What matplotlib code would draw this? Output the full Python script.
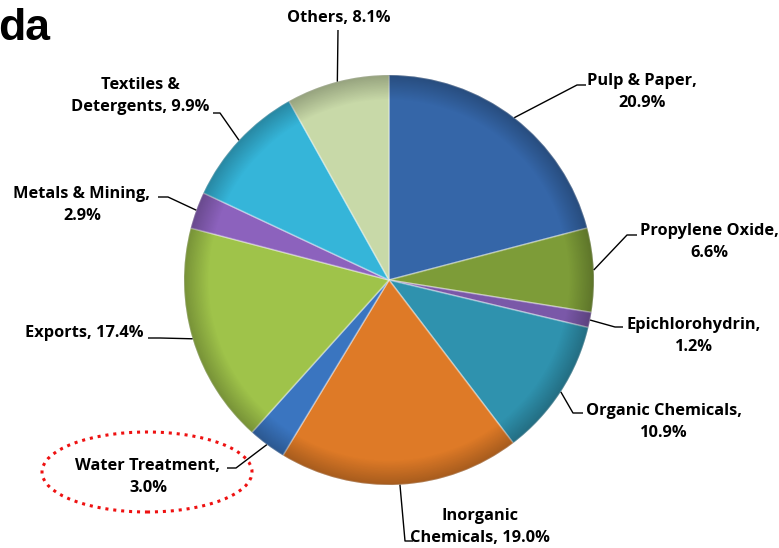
import numpy as np
import matplotlib
matplotlib.use("Agg")
import matplotlib.pyplot as plt
from matplotlib.patches import Ellipse, Circle

# data
labels = ["Pulp & Paper", "Propylene Oxide", "Epichlorohydrin", "Organic Chemicals",
          "Inorganic Chemicals", "Water Treatment", "Exports", "Metals & Mining",
          "Textiles & Detergents", "Others"]
shares = [20.9, 6.6, 1.2, 10.9, 19.0, 3.0, 17.4, 2.9, 9.9, 8.1]
label_text = ["Pulp & Paper,\n20.9%", "Propylene Oxide,\n6.6%", "Epichlorohydrin,\n1.2%",
              "Organic Chemicals,\n10.9%", "Inorganic\nChemicals, 19.0%",
              "Water Treatment,\n3.0%", "Exports, 17.4%", "Metals & Mining,\n2.9%",
              "Textiles &\nDetergents, 9.9%", "Others, 8.1%"]
colors = ["#3566a8", "#7d9c38", "#7a58a8", "#2f92ae", "#de7a27",
          "#3a75c0", "#9fc34a", "#8c62bd", "#35b5d9", "#c8d9a8"]

# layout (pixel coords, y from top): text centre, elbow point, end of short tail
text_pos = [(642, 92), (709, 242), (694, 336), (664, 422), (480, 527),
            (148, 477), (84, 333), (82, 205), (140, 96), (339, 18)]
elbows = [(577, 85), (627, 235), (615, 327), (573, 413), (405, 541),
          (236, 468), (160, 338), (168, 197), (220, 113), (338, 30)]
tails = [(586, 85), (637, 235), (623, 327), (583, 413), (413, 541),
         (227, 468), (148, 338), (158, 197), (213, 113), (338, 30)]

W, H = 779, 548
cx, cy, R = 389, 280, 205

def Y(y):
    return H - y

fig = plt.figure(figsize=(W / 100, H / 100), dpi=100)
ax = fig.add_axes([0, 0, 1, 1])

wedges, _ = ax.pie(shares, colors=colors, startangle=90, counterclock=False,
                   center=(cx, Y(cy)), radius=R, frame=True,
                   wedgeprops=dict(edgecolor=(1, 1, 1, 0.35), linewidth=1.2))
ax.set_xlim(0, W)
ax.set_ylim(0, H)
ax.set_aspect("equal")
ax.axis("off")

# bevel-like shading over the pie
n = 400
gx, gy = np.meshgrid(np.linspace(-1, 1, n), np.linspace(-1, 1, n))
rr = np.sqrt(gx ** 2 + gy ** 2)
shade = np.zeros((n, n, 4))
shade[..., 3] = np.clip((rr - 0.88) / 0.12, 0, 1) * 0.25
img = ax.imshow(shade, extent=(cx - R, cx + R, Y(cy) - R, Y(cy) + R), zorder=3)
img.set_clip_path(Circle((cx, Y(cy)), R, transform=ax.transData))

# leader lines and labels
for w, t, (ex, ey), (tx, ty), (px, py) in zip(wedges, label_text, elbows, tails, text_pos):
    mid = np.deg2rad((w.theta1 + w.theta2) / 2)
    sx = cx + R * np.cos(mid)
    sy = Y(cy) + R * np.sin(mid)
    ax.plot([sx, ex, tx], [sy, Y(ey), Y(ty)], color="black", lw=1, zorder=4,
            solid_capstyle="butt")
    ax.text(px, Y(py), t, ha="center", va="center", multialignment="center",
            fontsize=11.8, fontweight="bold", family="Open Sans", linespacing=1.45,
            color="black", zorder=5)

# dotted highlight around Water Treatment
ax.add_patch(Ellipse((147, Y(472)), 210, 80, fill=False, edgecolor="#ee1111",
                     linestyle=(0, (1, 1.6)), linewidth=2.2, zorder=6))

# cut-off title fragment
ax.text(-2, Y(40), "da", ha="left", va="baseline", fontsize=32,
        fontweight="bold", family="Liberation Sans", color="black")

fig.savefig("out.png", dpi=100)
